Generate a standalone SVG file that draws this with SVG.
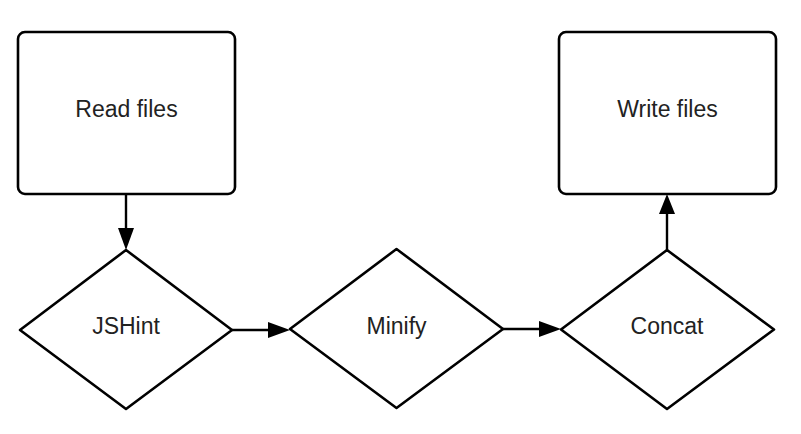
<svg xmlns="http://www.w3.org/2000/svg" width="801" height="434" viewBox="0 0 801 434">
<style>
.shape{fill:#fff;stroke:#000;stroke-width:2.6;stroke-linejoin:round}
.lbl{font-family:"Liberation Sans",Arial,sans-serif;font-size:23px;fill:#222;text-anchor:middle}
.conn{stroke:#000;stroke-width:2.4;fill:none}
.head{fill:#000}
</style>
<rect width="801" height="434" fill="#fff"/>
<g id="connectors">
<line class="conn" x1="126" y1="194" x2="126" y2="230"/>
<polygon class="head" points="118,228 134,228 126,250"/>
<line class="conn" x1="232" y1="330" x2="270" y2="330"/>
<polygon class="head" points="268,322 268,338 290,330"/>
<line class="conn" x1="503" y1="329" x2="541" y2="329"/>
<polygon class="head" points="539,321 539,337 561,329"/>
<line class="conn" x1="667" y1="250" x2="667" y2="212"/>
<polygon class="head" points="659,214 675,214 667,194"/>
</g>
<g id="read-files">
<rect class="shape" x="18" y="32" width="217" height="162" rx="7"/>
<text class="lbl" x="126.5" y="117">Read files</text>
</g>
<g id="write-files">
<rect class="shape" x="559" y="32" width="217" height="162" rx="7"/>
<text class="lbl" x="667.5" y="117">Write files</text>
</g>
<g id="jshint">
<path class="shape" d="M126,250 L232,330 L126,409 L20,330 Z"/>
<text class="lbl" x="126" y="334">JSHint</text>
</g>
<g id="minify">
<path class="shape" d="M396.5,249 L503,329 L396.5,408 L290,329 Z"/>
<text class="lbl" x="396.5" y="334">Minify</text>
</g>
<g id="concat">
<path class="shape" d="M667,250 L774,329.5 L667,409 L561,329.5 Z"/>
<text class="lbl" x="667" y="334">Concat</text>
</g>
</svg>
